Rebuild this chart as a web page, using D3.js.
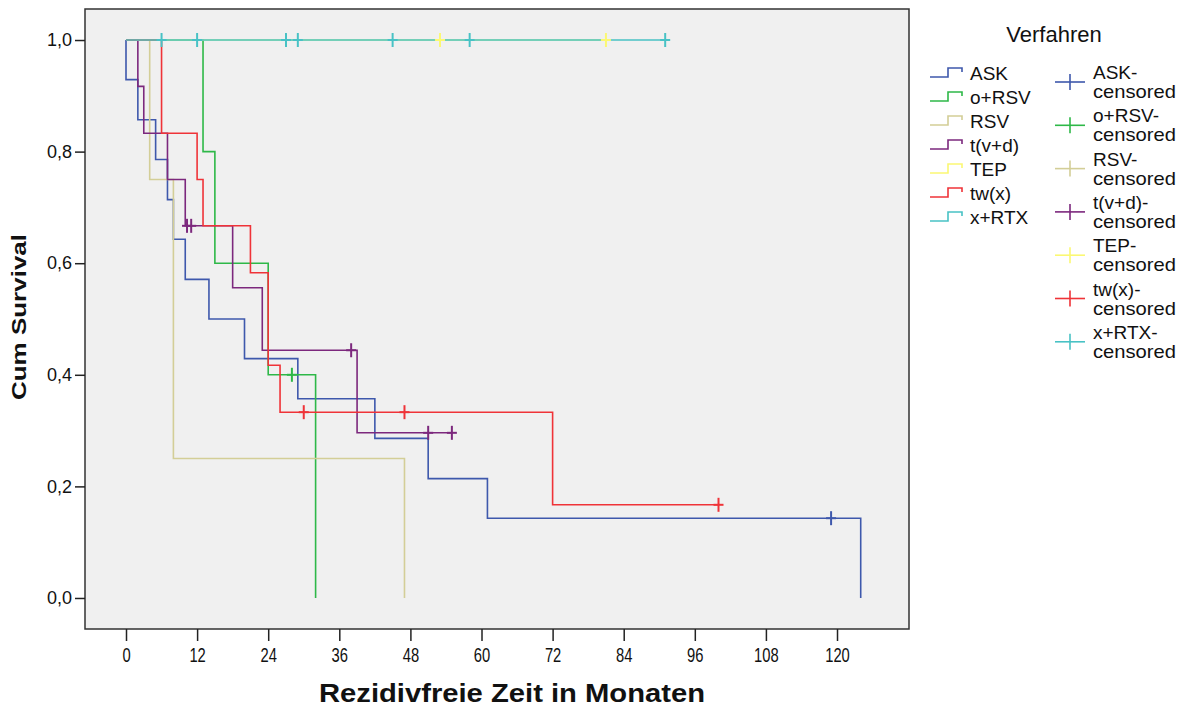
<!DOCTYPE html>
<html>
<head>
<meta charset="utf-8">
<script src="https://cdn.jsdelivr.net/npm/d3@7/dist/d3.min.js"></script>
<style>
  body { margin: 0; background: #fff; }
  text { font-family: "Liberation Sans", Arial, sans-serif; fill: #111; }
  .tick text { font-family: "Liberation Sans Narrow", "Liberation Sans", Arial, sans-serif; font-size: 18px; }
  .axtitle { font-weight: bold; }
  .leg { font-size: 19px; }
</style>
</head>
<body>
<svg id="chart" width="1187" height="711"></svg>
<script>
// Kaplan-Meier steps: event times and survival after each step
var groups = ["ASK", "o+RSV", "RSV", "t(v+d)", "TEP", "tw(x)", "x+RTX"];

var askTime = [0, 0, 2, 5, 7, 8, 10, 14, 20, 29, 42, 51, 61, 124];
var askSurv = [1, 0.929, 0.857, 0.786, 0.714, 0.643, 0.571, 0.5, 0.429, 0.357, 0.286, 0.214, 0.143, 0];
var askCens = [119];

var orsvTime = [0, 13, 15, 24, 32];
var orsvSurv = [1, 0.8, 0.6, 0.4, 0];
var orsvCens = [28];

var rsvTime = [0, 4, 8, 47];
var rsvSurv = [1, 0.75, 0.25, 0];
var rsvCens = [];

var tvdTime = [0, 2, 3, 7, 10, 18, 23, 39];
var tvdSurv = [1, 0.917, 0.833, 0.75, 0.667, 0.556, 0.444, 0.296];
var tvdCens = [10.3, 11, 38, 51, 55];

var tepTime = [0];
var tepSurv = [1];
var tepCens = [53, 81];

var twxTime = [0, 6, 12, 13, 21, 24, 26, 72];
var twxSurv = [1, 0.833, 0.75, 0.667, 0.583, 0.417, 0.333, 0.167];
var twxCens = [30, 47, 100];

var xrtxTime = [0];
var xrtxSurv = [1];
var xrtxCens = [6, 12, 27, 29, 45, 58, 91];

var xTicks = [0, 12, 24, 36, 48, 60, 72, 84, 96, 108, 120];
var yTicks = [0, 0.2, 0.4, 0.6, 0.8, 1.0];

var colors = ["#3E58AC", "#2EB848", "#D3CE97", "#7C287D", "#FBF873", "#EF3338", "#48C2C5"];

var times = [askTime, orsvTime, rsvTime, tvdTime, tepTime, twxTime, xrtxTime];
var survs = [askSurv, orsvSurv, rsvSurv, tvdSurv, tepSurv, twxSurv, xrtxSurv];
var cens = [askCens, orsvCens, rsvCens, tvdCens, tepCens, twxCens, xrtxCens];

var LEFT = 85, TOP = 9, PW = 824, PH = 620;

var svg = d3.select("#chart");
var g = svg.append("g").attr("transform", "translate(" + LEFT + "," + TOP + ")");

var x = d3.scaleLinear().domain([-6.92, 132.15]).range([0, PW]);
var y = d3.scaleLinear().domain([-0.0556, 1.0556]).range([PH, 0]);

g.append("rect")
  .attr("width", PW).attr("height", PH)
  .attr("fill", "#F0F0F0");

var line = d3.line()
  .x(function(d){ return x(d[0]); })
  .y(function(d){ return y(d[1]); })
  .curve(d3.curveStepAfter);

function survAt(t, i)
{
  var k = d3.bisectRight(times[i], t) - 1;
  return survs[i][Math.max(k, 0)];
}

// step lines
for (var i = 0; i < groups.length; i++)
{
  var pts = times[i].map(function(t, k){ return [t, survs[i][k]]; });
  var last = pts[pts.length - 1];
  var end = d3.max([last[0]].concat(cens[i]));
  if (end > last[0]) pts.push([end, last[1]]);
  g.append("path")
    .datum(pts)
    .attr("fill", "none")
    .attr("stroke", colors[i])
    .attr("stroke-width", 1.6)
    .attr("d", line);
}

// censor marks
for (var i = 0; i < groups.length; i++)
{
  var marks = g.append("g").selectAll("g")
    .data(cens[i])
    .enter().append("g")
      .attr("transform", function(t){ return "translate(" + x(t) + "," + y(survAt(t, i)) + ")"; });
  marks.append("line").attr("y1", -7).attr("y2", 7)
    .attr("stroke", colors[i]).attr("stroke-width", 2);
  marks.append("line").attr("x1", -5).attr("x2", 5)
    .attr("stroke", colors[i]).attr("stroke-width", 2);
}

g.append("rect")
  .attr("width", PW).attr("height", PH)
  .attr("fill", "none").attr("stroke", "#333").attr("stroke-width", 1.5);

var fmt = function(d){ return d3.format(".1f")(d).replace(".", ","); };

var yAxis = g.append("g")
  .call(d3.axisLeft(y).tickValues(yTicks).tickSize(10).tickPadding(3).tickFormat(fmt));
var xAxis = g.append("g")
  .attr("transform", "translate(0," + PH + ")")
  .call(d3.axisBottom(x).tickValues(xTicks).tickSize(12).tickPadding(7));
[yAxis, xAxis].forEach(function(a){
  a.select(".domain").remove();
  a.selectAll(".tick line").attr("stroke", "#222").attr("stroke-width", 1.5);
  a.selectAll(".tick text").attr("fill", "#111");
});
// narrow digits on the time axis
xAxis.selectAll(".tick text")
  .style("font-size", "20px")
  .attr("textLength", function(d){ return String(d).length * 8.2; })
  .attr("lengthAdjust", "spacingAndGlyphs");

svg.append("text")
  .attr("class", "axtitle")
  .style("font-size", "26px")
  .attr("x", 512).attr("y", 702)
  .attr("text-anchor", "middle")
  .attr("textLength", 386)
  .attr("lengthAdjust", "spacingAndGlyphs")
  .text("Rezidivfreie Zeit in Monaten");

svg.append("text")
  .attr("class", "axtitle")
  .style("font-size", "21px")
  .attr("transform", "translate(26,317) rotate(-90)")
  .attr("text-anchor", "middle")
  .attr("textLength", 166)
  .attr("lengthAdjust", "spacingAndGlyphs")
  .text("Cum Survival");

// legend
var leg = svg.append("g");
leg.append("text")
  .attr("class", "leg").style("font-size", "22px")
  .attr("x", 1054).attr("y", 42)
  .attr("text-anchor", "middle")
  .text("Verfahren");

var left = leg.selectAll("g.l").data(groups).enter().append("g")
  .attr("class", "l")
  .attr("transform", function(d, k){ return "translate(930," + (73 + k * 24) + ")"; });
left.append("path")
  .attr("d", "M0,4H18V-5H32V-1")
  .attr("fill", "none")
  .attr("stroke", function(d, k){ return colors[k]; })
  .attr("stroke-width", 1.6);
left.append("text")
  .attr("class", "leg")
  .attr("x", 40).attr("y", 7)
  .text(function(d){ return d; });

var right = leg.selectAll("g.r").data(groups).enter().append("g")
  .attr("class", "r")
  .attr("transform", function(d, k){ return "translate(1070," + (82 + k * 43.3) + ")"; });
right.append("line").attr("x1", -15).attr("x2", 15)
  .attr("stroke", function(d, k){ return colors[k]; }).attr("stroke-width", 1.6);
right.append("line").attr("y1", -8).attr("y2", 8)
  .attr("stroke", function(d, k){ return colors[k]; }).attr("stroke-width", 1.6);
right.append("text")
  .attr("class", "leg")
  .attr("x", 23).attr("y", -3)
  .text(function(d){ return d + "-"; });
right.append("text")
  .attr("class", "leg")
  .attr("x", 23).attr("y", 16)
  .attr("textLength", 83)
  .attr("lengthAdjust", "spacingAndGlyphs")
  .text("censored");
</script>
</body>
</html>
